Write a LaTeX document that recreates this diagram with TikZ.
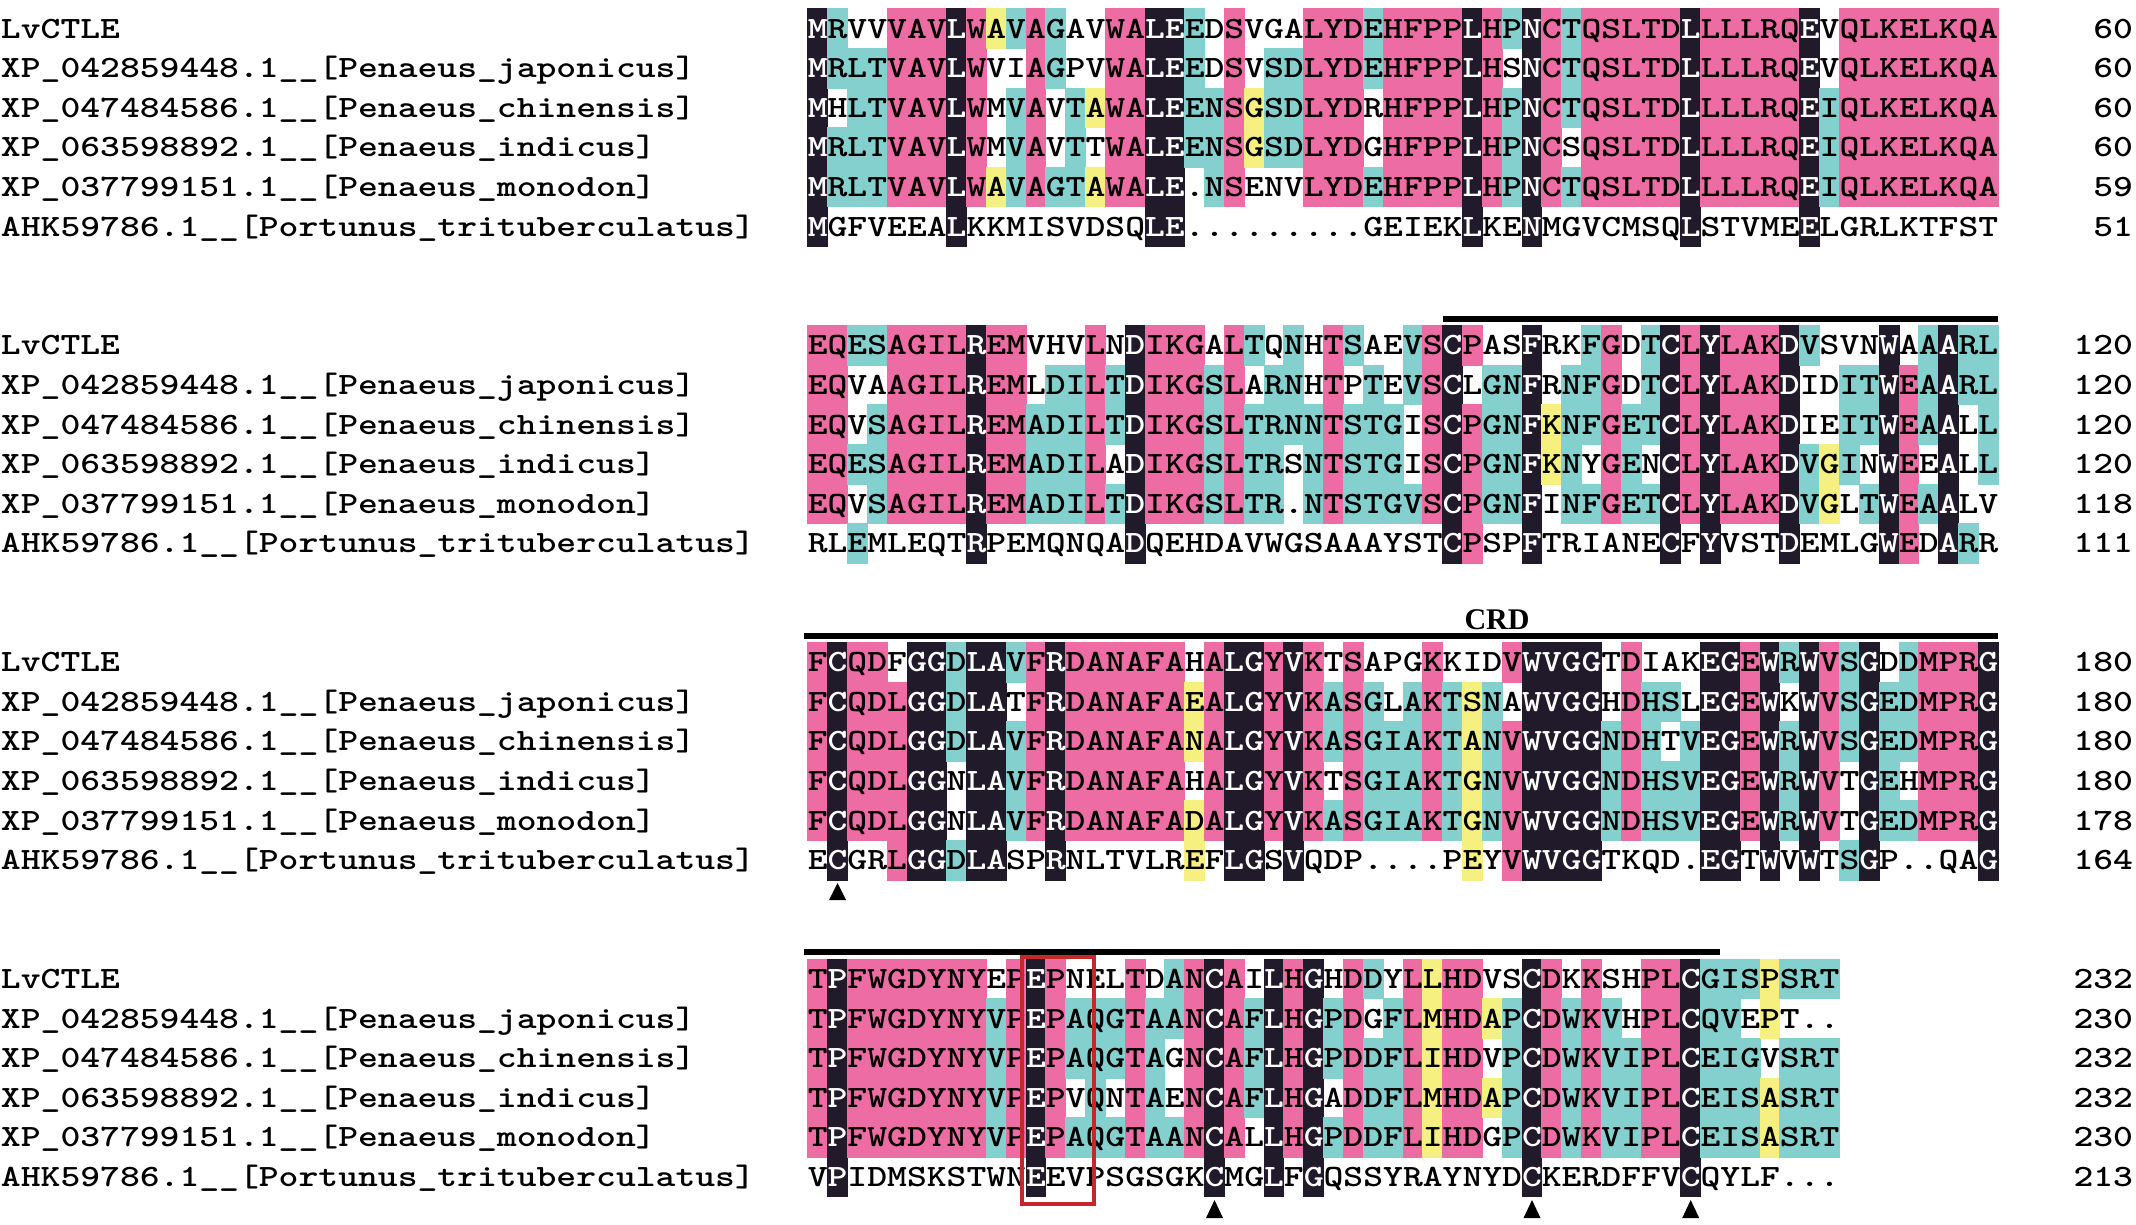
\documentclass[tikz,border=0pt]{standalone}
\usepackage{fontspec}
\usepackage{graphicx}
\newfontfamily\crdfont{Liberation Serif}
\definecolor{msapink}{RGB}{236,108,163}
\definecolor{msacyan}{RGB}{132,208,206}
\definecolor{msayellow}{RGB}{246,240,128}
\definecolor{msablack}{RGB}{32,26,42}
\definecolor{msared}{RGB}{196,40,45}
\newcommand\msafont{\ttfamily\bfseries\fontsize{31}{31}\selectfont}
\newcommand\msastretch[1]{\scalebox{1.219}[1]{#1}}
\tikzset{
  msatxt/.style={inner sep=0pt, outer sep=0pt, anchor=base, font=\msafont},
  msalabel/.style={inner sep=0pt, outer sep=0pt, anchor=base west, font=\msafont},
  msanum/.style={inner sep=0pt, outer sep=0pt, anchor=base east, font=\msafont},
  msabar/.style={line width=6pt, draw=black},
  msatri/.style={fill=black},
  msaredbox/.style={draw=msared, line width=4pt},
  msacrd/.style={inner sep=0pt, anchor=base, font=\crdfont\bfseries\fontsize{30}{30}\selectfont},
}
\newcommand\msacellbox[5]{\fill[fill=#1] (#2,#3) rectangle (#4,#5);}
\newcommand\msaletter[5]{\node[msatxt,text=#1] (#5) at (#2,#3) {\msastretch{#4}};}
\newcommand\msarow[3]{%
  \pgfmathsetmacro\msay{38.05+39.6*#1}%
  \node[msalabel] (name#1) at (1,\msay) {\msastretch{#2}};
  \node[msanum] (num#1) at (2133,\msay) {\msastretch{#3}};}
\newcommand\nmA{LvCTLE}
\newcommand\nmB{XP\_042859448.1\_\_[Penaeus\_japonicus]}
\newcommand\nmC{XP\_047484586.1\_\_[Penaeus\_chinensis]}
\newcommand\nmD{XP\_063598892.1\_\_[Penaeus\_indicus]}
\newcommand\nmE{XP\_037799151.1\_\_[Penaeus\_monodon]}
\newcommand\nmF{AHK59786.1\_\_[Portunus\_trituberculatus]}

\ExplSyntaxOn
\int_new:N \l__msa_best_int
\int_new:N \l__msa_cnt_int
\int_new:N \l__msa_len_int
\tl_new:N \l__msa_best_tl
\tl_new:N \l__msa_fill_tl
\tl_new:N \l__msa_text_tl
\tl_new:N \l__msa_xa_tl
\tl_new:N \l__msa_xb_tl
\tl_new:N \l__msa_xc_tl
\tl_new:N \l__msa_ya_tl
\tl_new:N \l__msa_yb_tl
\tl_new:N \l__msa_yt_tl
\prop_new:N \g__msa_over_prop
\tl_const:Nn \c__msa_dot_tl {.}
\tl_const:Nn \c__msa_none_tl {none}
\tl_const:Nn \c__msa_blk_tl {msablack}
\int_step_inline:nn {6}
  {
    \tl_new:c {l__msa_row_#1_tl}
    \tl_new:c {l__msa_ch_#1_tl}
  }
\NewDocumentCommand \msaoverride { m m m m }
  {
    \clist_map_inline:nn {#3}
      { \prop_gput:Nnn \g__msa_over_prop {#1-#2-##1} {#4} }
  }
\cs_new_protected:Npn \__msa_count:n #1
  {
    \tl_if_eq:cNF {l__msa_ch_#1_tl} \c__msa_dot_tl
      {
        \int_zero:N \l__msa_cnt_int
        \int_step_inline:nn {6}
          {
            \tl_if_eq:ccT {l__msa_ch_#1_tl} {l__msa_ch_##1_tl}
              { \int_incr:N \l__msa_cnt_int }
          }
        \int_compare:nNnF { \l__msa_cnt_int } < { \l__msa_best_int }
          {
            \int_set_eq:NN \l__msa_best_int \l__msa_cnt_int
            \tl_set_eq:Nc \l__msa_best_tl {l__msa_ch_#1_tl}
          }
      }
  }
\cs_new_protected:Npn \__msa_classify:nnn #1#2#3
  {
    \tl_set:Nn \l__msa_fill_tl {none}
    \tl_set:Nn \l__msa_text_tl {black}
    \tl_if_eq:cNT {l__msa_ch_#3_tl} \l__msa_best_tl
      {
        \int_case:nn { \l__msa_best_int }
          {
            {6} { \tl_set:Nn \l__msa_fill_tl {msablack} \tl_set:Nn \l__msa_text_tl {white} }
            {5} { \tl_set:Nn \l__msa_fill_tl {msapink} }
            {4} { \tl_set:Nn \l__msa_fill_tl {msacyan} }
            {3} { \tl_set:Nn \l__msa_fill_tl {msacyan} }
            {2} { \tl_set:Nn \l__msa_fill_tl {msayellow} }
          }
      }
    \prop_get:NnNT \g__msa_over_prop {#1-#2-#3} \l__msa_fill_tl
      {
        \tl_if_eq:NNTF \l__msa_fill_tl \c__msa_blk_tl
          { \tl_set:Nn \l__msa_text_tl {white} }
          { \tl_set:Nn \l__msa_text_tl {black} }
      }
  }
\cs_new_protected:Npn \__msa_geometry:nnn #1#2#3
  {
    \tl_set:Nx \l__msa_xa_tl { \fp_eval:n { 807.8 + (#2 - 1) * 19.84 - 0.5 } }
    \tl_set:Nx \l__msa_xb_tl { \fp_eval:n { 807.8 + (#2) * 19.84 + 0.5 } }
    \tl_set:Nx \l__msa_xc_tl { \fp_eval:n { 807.8 + (#2 - 0.5) * 19.84 } }
    \tl_set:Nx \l__msa_ya_tl { \fp_eval:n { 28.6 + (8 * #1 + #3 - 1) * 39.6 - 20.3 } }
    \tl_set:Nx \l__msa_yb_tl { \fp_eval:n { 28.6 + (8 * #1 + #3 - 1) * 39.6 + 20.3 } }
    \tl_set:Nx \l__msa_yt_tl { \fp_eval:n { 28.6 + (8 * #1 + #3 - 1) * 39.6 + 9.45 } }
  }
\cs_new_protected:Npn \__msa_column:nnn #1#2#3
  {
    \int_step_inline:nn {6}
      { \tl_set:cx {l__msa_ch_##1_tl} { \tl_item:cn {l__msa_row_##1_tl} {#2} } }
    \int_zero:N \l__msa_best_int
    \tl_clear:N \l__msa_best_tl
    \int_step_inline:nn {6} { \__msa_count:n {##1} }
    \int_step_inline:nn {6}
      {
        \__msa_classify:nnn {#1} {#2} {##1}
        \__msa_geometry:nnn {#1} {#2} {##1}
        \int_compare:nNnTF {#3} = {1}
          {
            \tl_if_eq:NNF \l__msa_fill_tl \c__msa_none_tl
              {
                \use:x
                  {
                    \exp_not:N \msacellbox {\l__msa_fill_tl}
                      {\l__msa_xa_tl} {\l__msa_ya_tl} {\l__msa_xb_tl} {\l__msa_yb_tl}
                  }
              }
          }
          {
            \use:x
              {
                \exp_not:N \msaletter {\l__msa_text_tl} {\l__msa_xc_tl} {\l__msa_yt_tl}
                  { \tl_use:c {l__msa_ch_##1_tl} } { s#1-##1-#2 }
              }
          }
      }
  }
\NewDocumentCommand \msablock { m m m m m m m }
  {
    \tl_set:cn {l__msa_row_1_tl} {#2}
    \tl_set:cn {l__msa_row_2_tl} {#3}
    \tl_set:cn {l__msa_row_3_tl} {#4}
    \tl_set:cn {l__msa_row_4_tl} {#5}
    \tl_set:cn {l__msa_row_5_tl} {#6}
    \tl_set:cn {l__msa_row_6_tl} {#7}
    \int_set:Nn \l__msa_len_int { \tl_count:c {l__msa_row_1_tl} }
    \int_step_inline:nn { \l__msa_len_int } { \__msa_column:nnn {#1} {##1} {1} }
    \int_step_inline:nn { \l__msa_len_int } { \__msa_column:nnn {#1} {##1} {2} }
  }
\ExplSyntaxOff

% shading that the reference shows beyond plain identity
\msaoverride{2}{20}{1,4}{none}
\msaoverride{2}{20}{2,3,5,6}{msayellow}
\msaoverride{2}{34}{2,3,4,5,6}{msayellow}
\msaoverride{3}{32}{1,2,3,4,5}{msayellow}
\msaoverride{3}{49}{1,2,4,5}{msayellow}
\msaoverride{3}{46}{1,2}{msacyan}
\msaoverride{3}{47}{2}{msacyan}
\msaoverride{3}{48}{3}{msacyan}

\begin{document}
\begin{tikzpicture}[x=1pt,y=-1pt]
\useasboundingbox (0,0) rectangle (2136,1224);
\fill[white] (0,0) rectangle (2136,1224);

\msablock{0}
{MRVVVAVLWAVAGAVWALEEDSVGALYDEHFPPLHPNCTQSLTDLLLLRQEVQLKELKQA}
{MRLTVAVLWVIAGPVWALEEDSVSDLYDEHFPPLHSNCTQSLTDLLLLRQEVQLKELKQA}
{MHLTVAVLWMVAVTAWALEENSGSDLYDRHFPPLHPNCTQSLTDLLLLRQEIQLKELKQA}
{MRLTVAVLWMVAVTTWALEENSGSDLYDGHFPPLHPNCSQSLTDLLLLRQEIQLKELKQA}
{MRLTVAVLWAVAGTAWALE.NSENVLYDEHFPPLHPNCTQSLTDLLLLRQEIQLKELKQA}
{MGFVEEALKKMISVDSQLE.........GEIEKLKENMGVCMSQLSTVMEELGRLKTFST}

\msablock{1}
{EQESAGILREMVHVLNDIKGALTQNHTSAEVSCPASFRKFGDTCLYLAKDVSVNWAAARL}
{EQVAAGILREMLDILTDIKGSLARNHTPTEVSCLGNFRNFGDTCLYLAKDIDITWEAARL}
{EQVSAGILREMADILTDIKGSLTRNNTSTGISCPGNFKNFGETCLYLAKDIEITWEAALL}
{EQESAGILREMADILADIKGSLTRSNTSTGISCPGNFKNYGENCLYLAKDVGINWEEALL}
{EQVSAGILREMADILTDIKGSLTR.NTSTGVSCPGNFINFGETCLYLAKDVGLTWEAALV}
{RLEMLEQTRPEMQNQADQEHDAVWGSAAAYSTCPSPFTRIANECFYVSTDEMLGWEDARR}

\msablock{2}
{FCQDFGGDLAVFRDANAFAHALGYVKTSAPGKKIDVWVGGTDIAKEGEWRWVSGDDMPRG}
{FCQDLGGDLATFRDANAFAEALGYVKASGLAKTSNAWVGGHDHSLEGEWKWVSGEDMPRG}
{FCQDLGGDLAVFRDANAFANALGYVKASGIAKTANVWVGGNDHTVEGEWRWVSGEDMPRG}
{FCQDLGGNLAVFRDANAFAHALGYVKTSGIAKTGNVWVGGNDHSVEGEWRWVTGEHMPRG}
{FCQDLGGNLAVFRDANAFADALGYVKASGIAKTGNVWVGGNDHSVEGEWRWVTGEDMPRG}
{ECGRLGGDLASPRNLTVLREFLGSVQDP....PEYVWVGGTKQD.EGTWVWTSGP..QAG}

\msablock{3}
{TPFWGDYNYEPEPNELTDANCAILHGHDDYLLHDVSCDKKSHPLCGISPSRT}
{TPFWGDYNYVPEPAQGTAANCAFLHGPDGFLMHDAPCDWKVHPLCQVEPT..}
{TPFWGDYNYVPEPAQGTAGNCAFLHGPDDFLIHDVPCDWKVIPLCEIGVSRT}
{TPFWGDYNYVPEPVQNTAENCAFLHGADDFLMHDAPCDWKVIPLCEISASRT}
{TPFWGDYNYVPEPAQGTAANCALLHGPDDFLIHDGPCDWKVIPLCEISASRT}
{VPIDMSKSTWNEEVPSGSGKCMGLFGQSSYRAYNYDCKERDFFVCQYLF...}

% names and position numbers
\msarow{0}{\nmA}{60}
\msarow{1}{\nmB}{60}
\msarow{2}{\nmC}{60}
\msarow{3}{\nmD}{60}
\msarow{4}{\nmE}{59}
\msarow{5}{\nmF}{51}
\msarow{8}{\nmA}{120}
\msarow{9}{\nmB}{120}
\msarow{10}{\nmC}{120}
\msarow{11}{\nmD}{120}
\msarow{12}{\nmE}{118}
\msarow{13}{\nmF}{111}
\msarow{16}{\nmA}{180}
\msarow{17}{\nmB}{180}
\msarow{18}{\nmC}{180}
\msarow{19}{\nmD}{180}
\msarow{20}{\nmE}{178}
\msarow{21}{\nmF}{164}
\msarow{24}{\nmA}{232}
\msarow{25}{\nmB}{230}
\msarow{26}{\nmC}{232}
\msarow{27}{\nmD}{232}
\msarow{28}{\nmE}{230}
\msarow{29}{\nmF}{213}

% domain bars
\draw[msabar] (1442.7,319) -- (1998,319);
\draw[msabar] (804,636) -- (1998,636);
\draw[msabar] (804,952) -- (1720,952);
\node[msacrd] (crd) at (1497,629) {CRD};

% red box
\draw[msaredbox] (1022,957) rectangle (1094,1204);

% cysteine triangles
\fill[msatri] (837.6,883) -- (846.1,900) -- (829.1,900) -- cycle;
\fill[msatri] (1214.5,1200) -- (1223,1218) -- (1206,1218) -- cycle;
\fill[msatri] (1532,1200) -- (1540.5,1218) -- (1523.5,1218) -- cycle;
\fill[msatri] (1690.7,1200) -- (1699.2,1218) -- (1682.2,1218) -- cycle;
\end{tikzpicture}
\end{document}
